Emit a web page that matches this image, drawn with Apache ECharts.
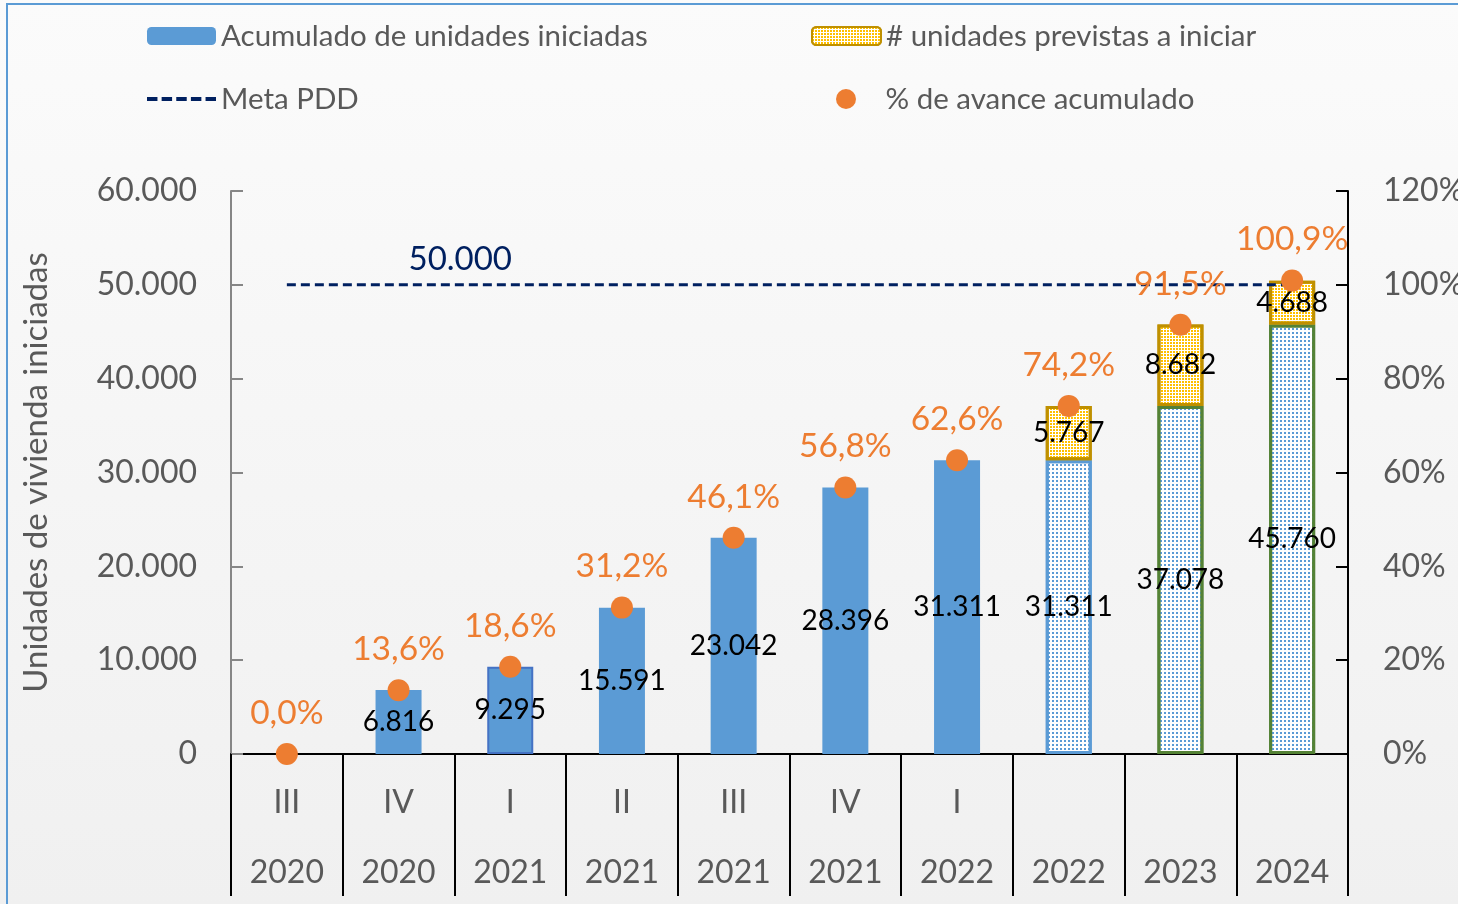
<!DOCTYPE html>
<html>
<head>
<meta charset="utf-8">
<script src="https://cdn.jsdelivr.net/npm/echarts@6/dist/echarts.min.js"></script>
<style>
html,body{margin:0;padding:0;background:#f3f3f3;}
#c{width:1458px;height:904px;}
</style>
</head>
<body>
<div id="c"></div>
<script>
// ---- data ----
const quarters = ['III', 'IV', 'I', 'II', 'III', 'IV', 'I', '', '', ''];
const years = ['2020', '2020', '2021', '2021', '2021', '2021', '2022', '2022', '2023', '2024'];
const acumulado = [0, 6816, 9295, 15591, 23042, 28396, 31311, 31311, 37078, 45760];
const previstas = [null, null, null, null, null, null, null, 5767, 8682, 4688];
const avancePct = [0.0, 13.6, 18.6, 31.2, 46.1, 56.8, 62.6, 74.2, 91.5, 100.9];
const metaPDD = [50000, 50000, 50000, 50000, 50000, 50000, 50000, 50000, 50000, 50000];
const leftTicks = [0, 10000, 20000, 30000, 40000, 50000, 60000];
const rightTicks = [0, 20, 40, 60, 80, 100, 120];

const FONT = 'Lato';
const GRAY = '#595959';
const BLUE = '#5B9BD5';
const ORANGE = '#ED7D31';
const NAVY = '#002060';

function fmtNum(v) {
  return String(Math.round(v)).replace(/\B(?=(\d{3})+(?!\d))/g, '.');
}
function fmtPct(v) {
  return v.toFixed(1).replace('.', ',') + '%';
}

const blueDecal = { symbol: 'rect', symbolSize: 1, color: BLUE, dashArrayX: [2, 2], dashArrayY: [2, 2], rotation: 0 };
const yellowDecal = { symbol: 'rect', symbolSize: 1, color: '#FFC000', dashArrayX: [2, 1], dashArrayY: [2, 1], rotation: 0 };

const acumData = acumulado.map((v, i) => {
  const item = { value: v };
  if (v === 0) item.label = { show: false };
  if (i === 2) item.itemStyle = { borderColor: '#4472C4', borderWidth: 2 };
  if (i >= 7) {
    item.itemStyle = {
      color: '#ffffff',
      borderColor: i === 7 ? BLUE : '#548235',
      borderWidth: 3,
      decal: blueDecal
    };
  }
  return item;
});

const metaData = metaPDD.map((v, i) => {
  const item = { value: v };
  if (i === 2) {
    item.label = {
      show: true, position: 'top', distance: 9, offset: [-50, 0],
      formatter: () => fmtNum(v), color: NAVY, fontSize: 33, fontFamily: FONT
    };
  }
  return item;
});

const chart = echarts.init(document.getElementById('c'), null, { renderer: 'canvas' });

const legendBase = {
  orient: 'horizontal', padding: 0, itemWidth: 69, itemHeight: 18,
  textStyle: { fontSize: 29.5, color: GRAY, fontFamily: FONT, lineHeight: 30 },
  selectedMode: false
};

const dashIcon = 'path://M0,0h10v4h-10z M14,0h10v4h-10z M28,0h10v4h-10z M42,0h10v4h-10z M56,0h10v4h-10z';

chart.setOption({
  backgroundColor: {
    type: 'linear', x: 0, y: 0, x2: 0, y2: 1,
    colorStops: [{ offset: 0, color: '#fbfbfb' }, { offset: 1, color: '#f0f0f0' }]
  },
  animation: false,
  textStyle: { fontFamily: FONT },
  graphic: [{
    type: 'rect', shape: { x: 7, y: 4, width: 1600, height: 1100 },
    style: { fill: 'none', stroke: BLUE, lineWidth: 2 }, silent: true, z: -1
  }],
  legend: [
    Object.assign({}, legendBase, { left: 147, top: 21, data: ['Acumulado de unidades iniciadas'] }),
    Object.assign({}, legendBase, { left: 811, top: 21, data: ['# unidades previstas a iniciar'] }),
    Object.assign({}, legendBase, { left: 147, top: 84, itemHeight: 4.2, data: [{ name: 'Meta PDD', icon: dashIcon }] }),
    Object.assign({}, legendBase, { left: 836, top: 84, itemHeight: 20, data: [{ name: '% de avance acumulado', icon: 'circle' }] })
  ],
  grid: { left: 231, right: 110, top: 191, bottom: 150, containLabel: false, outerBoundsMode: 'none' },
  xAxis: {
    type: 'category',
    data: quarters.map((q, i) => q + '\n' + years[i]),
    boundaryGap: true,
    axisLine: { show: true, lineStyle: { color: '#000', width: 2 } },
    axisTick: { show: true, interval: 0, length: 142, lineStyle: { color: '#000', width: 2 } },
    axisLabel: { interval: 0, fontSize: 32, color: GRAY, lineHeight: 70, margin: 14, fontFamily: FONT },
    splitLine: { show: false }
  },
  yAxis: [{
    type: 'value', min: leftTicks[0], max: leftTicks[leftTicks.length - 1], interval: leftTicks[1] - leftTicks[0],
    name: 'Unidades de vivienda iniciadas', nameLocation: 'middle', nameGap: 178,
    nameTextStyle: { fontSize: 33, color: GRAY, fontFamily: FONT },
    axisLine: { show: true, lineStyle: { color: '#868686', width: 2 } },
    axisTick: { show: true, inside: true, length: 12, lineStyle: { color: '#868686', width: 2 } },
    axisLabel: { fontSize: 32, color: GRAY, margin: 34, formatter: v => fmtNum(v), fontFamily: FONT },
    splitLine: { show: false }
  }, {
    type: 'value', min: rightTicks[0], max: rightTicks[rightTicks.length - 1], interval: rightTicks[1] - rightTicks[0],
    axisLine: { show: true, lineStyle: { color: '#000', width: 2 } },
    axisTick: { show: true, inside: true, length: 12, lineStyle: { color: '#000', width: 2 } },
    axisLabel: { fontSize: 32, color: GRAY, margin: 35, formatter: v => v + '%', fontFamily: FONT },
    splitLine: { show: false }
  }],
  series: [{
    name: 'Acumulado de unidades iniciadas',
    type: 'bar', stack: 'total', barWidth: 46,
    itemStyle: { color: BLUE },
    label: { show: true, position: 'inside', color: '#000', fontSize: 28, fontFamily: FONT, formatter: p => fmtNum(p.value) },
    data: acumData, z: 2
  }, {
    name: '# unidades previstas a iniciar',
    type: 'bar', stack: 'total', barWidth: 46,
    itemStyle: { color: '#ffffff', borderColor: '#BF9000', borderWidth: 3, decal: yellowDecal },
    label: { show: true, position: 'inside', color: '#000', fontSize: 28, fontFamily: FONT, formatter: p => fmtNum(p.value) },
    data: previstas, z: 2
  }, {
    name: 'Meta PDD',
    type: 'line', symbol: 'circle', symbolSize: 0.01, showSymbol: true,
    lineStyle: { color: NAVY, width: 3, type: [9, 5] },
    itemStyle: { color: NAVY },
    data: metaData, z: 3
  }, {
    name: '% de avance acumulado',
    type: 'scatter', yAxisIndex: 1, symbolSize: 22,
    itemStyle: { color: ORANGE, opacity: 1 },
    label: { show: true, position: 'top', distance: 13, color: ORANGE, fontSize: 33.5, fontFamily: FONT, formatter: p => fmtPct(p.value) },
    data: avancePct, z: 5
  }]
});
</script>
</body>
</html>
